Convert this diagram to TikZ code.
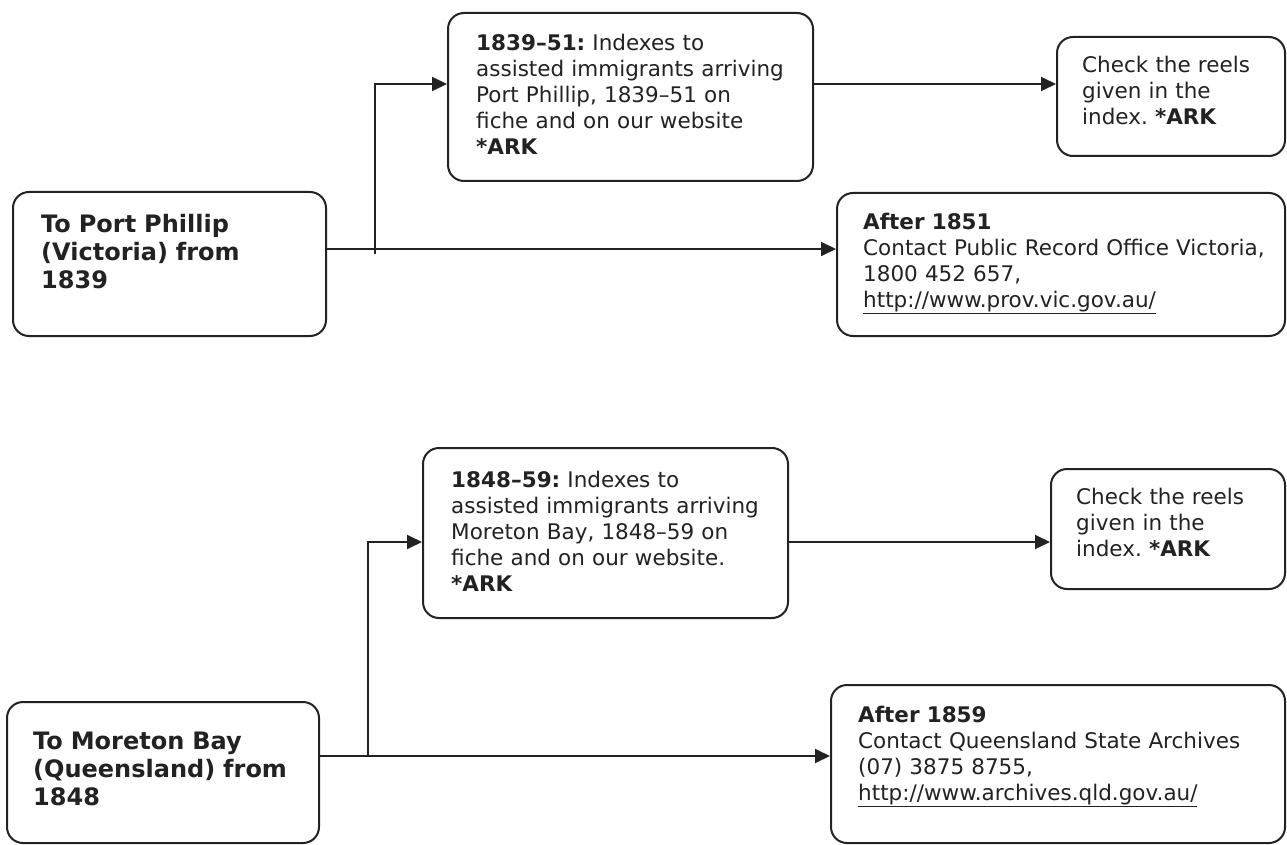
\documentclass[tikz,border=0pt]{standalone}
\usepackage{fontspec}
\setmainfont{DejaVu Sans}
\usetikzlibrary{arrows.meta,fit}
\definecolor{ink}{HTML}{222222}
\frenchspacing
\begin{document}
\begin{tikzpicture}[x=1pt,y=-1pt,
  box/.style={draw=ink, line width=2pt, rounded corners=16pt, inner sep=0pt},
  bigtxt/.style={anchor=north west, inner sep=0pt, text=ink, align=left, text width=300pt, font=\bfseries\fontsize{24}{28}\selectfont},
  smalltxt/.style={anchor=north west, inner sep=0pt, text=ink, align=left, text width=430pt, font=\fontsize{21.5}{26}\selectfont},
  conn/.style={draw=ink, line width=1.8pt},
  arr/.style={conn, -{Triangle[length=15pt,width=14pt]}}]
\useasboundingbox (0,0) rectangle (1287,845);
\fill[white] (0,0) rectangle (1287,845);
% ---------- top group ----------
\node[box, fit={(13,192) (326,336)}] (a1) {};
\node[box, fit={(448,13) (813,181)}] (b1) {};
\node[box, fit={(1057,37) (1285,156)}] (c1) {};
\node[box, fit={(837,193) (1285,336)}] (d1) {};
\node[bigtxt] (a1t) at (41,213) {\strut To Port Phillip\\(Victoria) from\\1839};
\node[smalltxt] (b1t) at (476,32) {\strut\textbf{1839–51:} Indexes to\\assisted immigrants arriving\\Port Phillip, 1839–51 on\\fiche and on our website\\\textbf{*ARK}};
\node[smalltxt] (c1t) at (1082,54) {\strut Check the reels\\given in the\\index. \textbf{*ARK}};
\node[smalltxt] (d1t) at (863,211) {\strut\textbf{After 1851}\\Contact Public Record Office Victoria,\\1800 452 657,\\\underline{http://www.prov.vic.gov.au/}};
\coordinate (j1) at (375,249);
\coordinate (k1) at (375,84);
\coordinate (m1) at (375,254);
\draw[conn] (a1.east |- j1) -- (j1);
\draw[conn] (j1) -- (m1);
\draw[arr] (j1) -- (d1.west |- j1);
\draw[arr] (j1) -- (k1) -- (b1.west |- k1);
\draw[arr] (b1.east |- k1) -- (c1.west |- k1);
% ---------- bottom group ----------
\node[box, fit={(7,702) (319,843)}] (a2) {};
\node[box, fit={(423,448) (788,618)}] (b2) {};
\node[box, fit={(1051,469) (1285,589)}] (c2) {};
\node[box, fit={(831,685) (1285,843)}] (d2) {};
\node[bigtxt] (a2t) at (33,730) {\strut To Moreton Bay\\(Queensland) from\\1848};
\node[smalltxt] (b2t) at (451,469) {\strut\textbf{1848–59:} Indexes to\\assisted immigrants arriving\\Moreton Bay, 1848–59 on\\fiche and on our website.\\\textbf{*ARK}};
\node[smalltxt] (c2t) at (1076,486) {\strut Check the reels\\given in the\\index. \textbf{*ARK}};
\node[smalltxt] (d2t) at (858,704) {\strut\textbf{After 1859}\\Contact Queensland State Archives\\(07) 3875 8755,\\\underline{http://www.archives.qld.gov.au/}};
\coordinate (j2) at (368,756);
\coordinate (k2) at (368,542);
\draw[conn] (a2.east |- j2) -- (j2);
\draw[arr] (j2) -- (d2.west |- j2);
\draw[arr] (j2) -- (k2) -- (b2.west |- k2);
\draw[arr] (b2.east |- k2) -- (c2.west |- k2);
\end{tikzpicture}
\end{document}
